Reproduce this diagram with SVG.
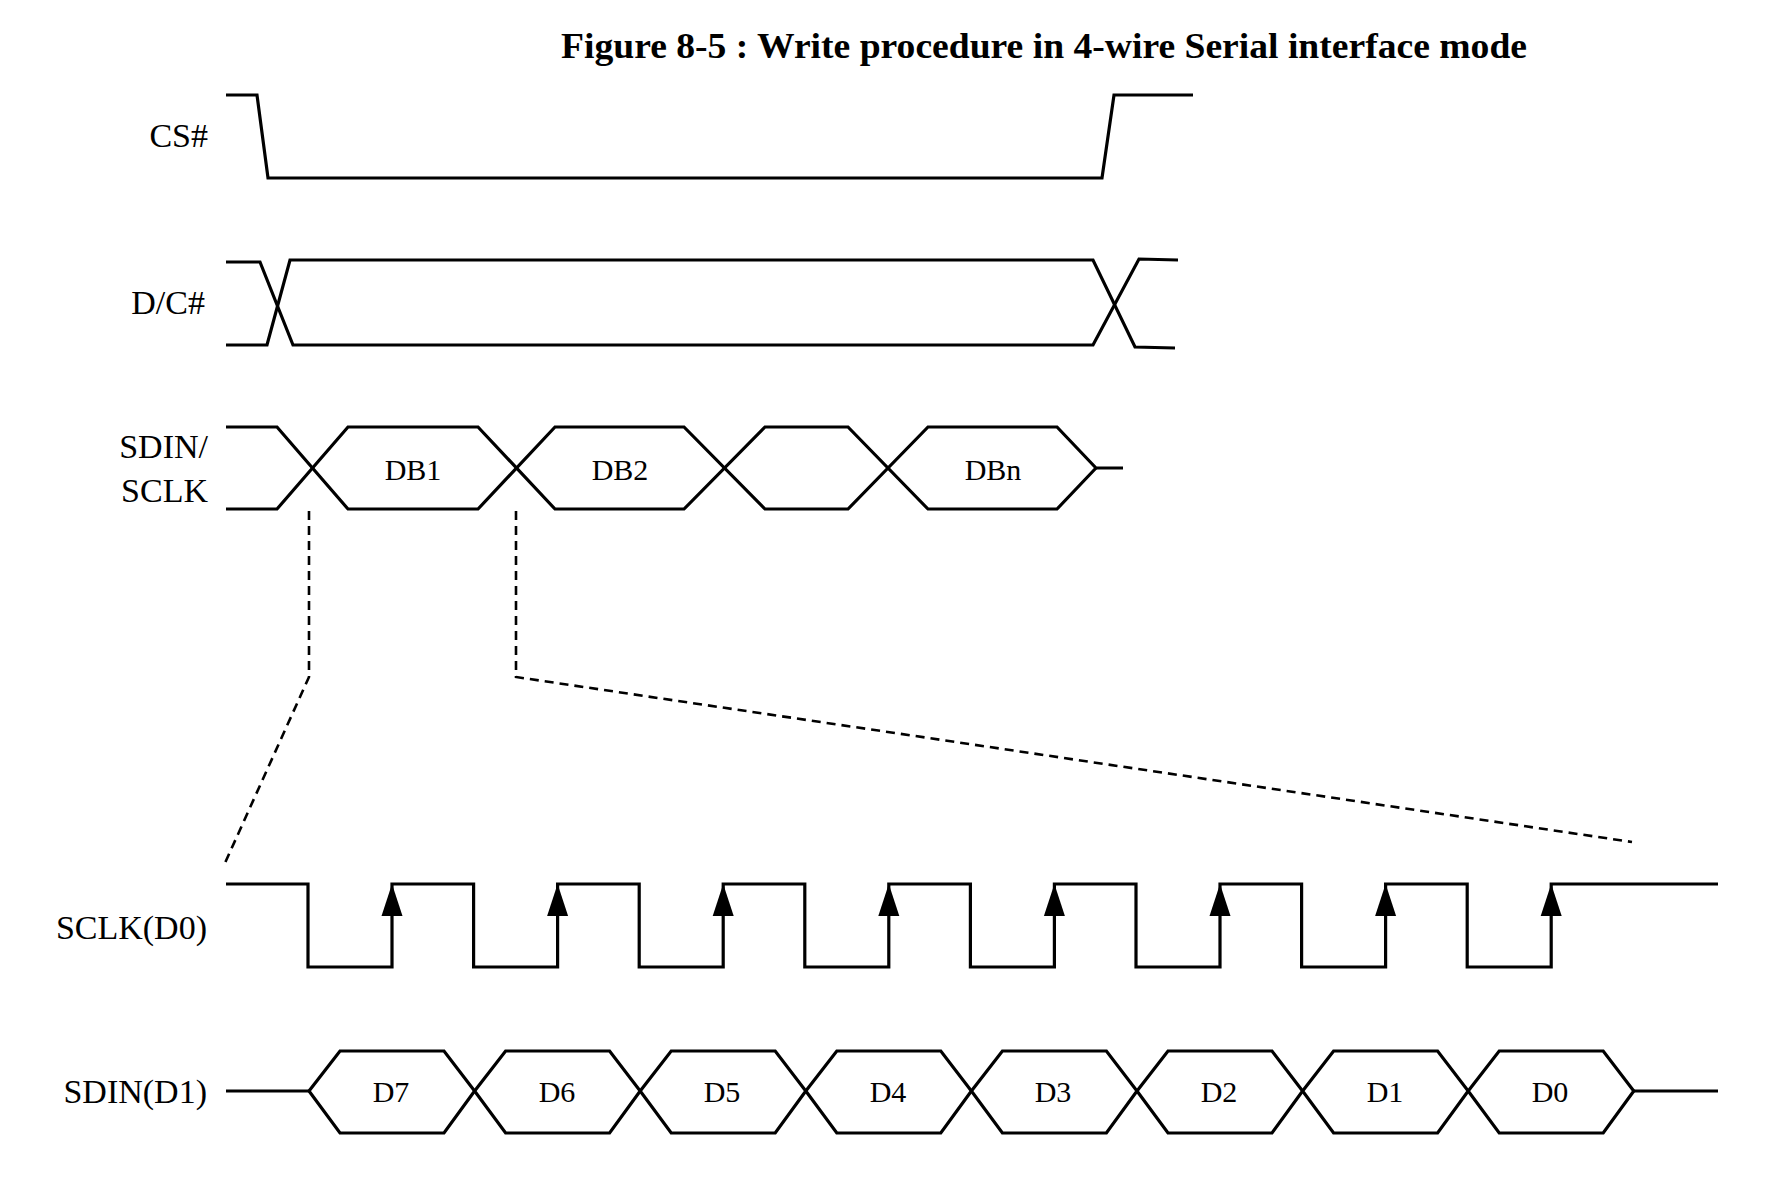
<svg xmlns="http://www.w3.org/2000/svg" xmlns:xlink="http://www.w3.org/1999/xlink" width="1768" height="1178" viewBox="0 0 1768 1178">
<style>
.w{fill:none;stroke:#000;stroke-width:3.2;stroke-linejoin:miter}
.d{fill:none;stroke:#000;stroke-width:2.6;stroke-dasharray:9 6}
.lbl{font-family:"Liberation Serif","Times New Roman",serif;font-size:34px;fill:#000;text-anchor:end}
.in{font-family:"Liberation Serif","Times New Roman",serif;font-size:30px;fill:#000;text-anchor:middle}
.title{font-family:"Liberation Serif","Times New Roman",serif;font-size:36px;font-weight:bold;fill:#000}
</style>
<defs>
<path id="arr" d="M0,0 L-10.5,32 L10.5,32 Z" fill="#000"/>
<path id="hex" d="M0,0 L31,-40 L135,-40 L165.6,0 L135,42 L31,42 Z" fill="none" stroke="#000" stroke-width="3.2"/>
</defs>
<rect width="1768" height="1178" fill="#fff"/>
<text class="title" x="561" y="58" textLength="966" lengthAdjust="spacingAndGlyphs">Figure 8-5 : Write procedure in 4-wire Serial interface mode</text>

<g id="cs">
<text class="lbl" x="208" y="147">CS#</text>
<path class="w" d="M226,95 L257,95 L268,178 L1102,178 L1114,95 L1193,95"/>
</g>

<g id="dc">
<text class="lbl" x="205" y="314">D/C#</text>
<path class="w" d="M226,262 L260,262 L293,345 L1093,345 L1139,259 L1178,260"/>
<path class="w" d="M226,345 L267,345 L290,260 L1093,260 L1135,347 L1175,348"/>
</g>

<g id="bus">
<text class="lbl" x="208" y="458">SDIN/</text>
<text class="lbl" x="208" y="502">SCLK</text>
<path class="w" d="M226,427 L277,427 L348,509 L478,509 L555,427 L684,427 L765,509 L848,509 L928,427 L1057,427 L1096,468 L1123,468"/>
<path class="w" d="M226,509 L277,509 L348,427 L478,427 L555,509 L684,509 L765,427 L848,427 L928,509 L1057,509 L1096,468"/>
<text class="in" x="413" y="480">DB1</text>
<text class="in" x="620" y="480">DB2</text>
<text class="in" x="993" y="480">DBn</text>
</g>

<g id="sclk">
<text class="lbl" x="207" y="939">SCLK(D0)</text>
<path class="w" d="M226,884 L308,884 L308,967 L392,967 L392,884 L473.6,884 L473.6,967 L557.6,967 L557.6,884 L639.2,884 L639.2,967 L723.2,967 L723.2,884 L804.8,884 L804.8,967 L888.8,967 L888.8,884 L970.4,884 L970.4,967 L1054.4,967 L1054.4,884 L1136,884 L1136,967 L1220,967 L1220,884 L1301.6,884 L1301.6,967 L1385.6,967 L1385.6,884 L1467.2,884 L1467.2,967 L1551.2,967 L1551.2,884 L1718,884"/>
<use xlink:href="#arr" x="392" y="884"/>
<use xlink:href="#arr" x="557.6" y="884"/>
<use xlink:href="#arr" x="723.2" y="884"/>
<use xlink:href="#arr" x="888.8" y="884"/>
<use xlink:href="#arr" x="1054.4" y="884"/>
<use xlink:href="#arr" x="1220" y="884"/>
<use xlink:href="#arr" x="1385.6" y="884"/>
<use xlink:href="#arr" x="1551.2" y="884"/>
</g>

<g id="sdin">
<text class="lbl" x="207" y="1103">SDIN(D1)</text>
<path class="w" d="M226,1091 L309,1091 M1634,1091 L1718,1091"/>
<use xlink:href="#hex" x="309" y="1091"/>
<use xlink:href="#hex" x="474.6" y="1091"/>
<use xlink:href="#hex" x="640.2" y="1091"/>
<use xlink:href="#hex" x="805.8" y="1091"/>
<use xlink:href="#hex" x="971.4" y="1091"/>
<use xlink:href="#hex" x="1137" y="1091"/>
<use xlink:href="#hex" x="1302.6" y="1091"/>
<use xlink:href="#hex" x="1468.2" y="1091"/>
<text class="in" x="391" y="1102">D7</text>
<text class="in" x="557" y="1102">D6</text>
<text class="in" x="722" y="1102">D5</text>
<text class="in" x="888" y="1102">D4</text>
<text class="in" x="1053" y="1102">D3</text>
<text class="in" x="1219" y="1102">D2</text>
<text class="in" x="1385" y="1102">D1</text>
<text class="in" x="1550" y="1102">D0</text>
</g>

<g id="connectors">
<path class="d" d="M309,511 L309,677 L225,863"/>
<path class="d" d="M516,511 L516,677 L1632,842"/>
</g>
</svg>
